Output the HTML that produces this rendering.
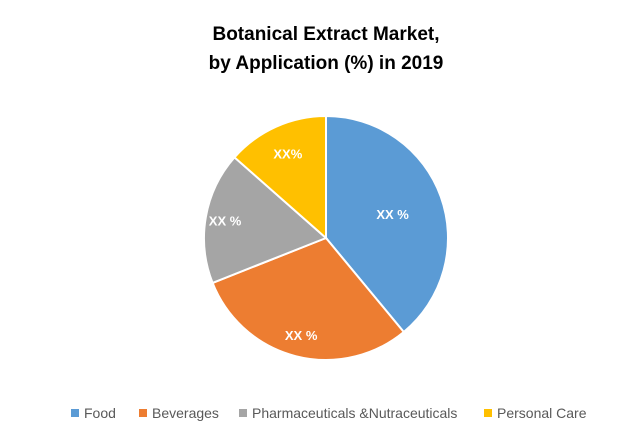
<!DOCTYPE html>
<html><head><meta charset="utf-8"><style>
body{margin:0;background:#fff;width:642px;height:438px;overflow:hidden;font-family:"Liberation Sans",sans-serif}
</style></head><body>
<svg width="642" height="438">
<text x="326" y="40" text-anchor="middle" font-size="19" font-weight="bold" fill="#000">Botanical Extract Market,</text>
<text x="326" y="69" text-anchor="middle" font-size="19" font-weight="bold" fill="#000">by Application (%) in 2019</text>
<g id="slices"></g>
<g id="legend"></g>
</svg>
<script>
const categories=["Food","Beverages","Pharmaceuticals &Nutraceuticals","Personal Care"];
const values=[39,30,17.5,13.5];
const labels=["XX %","XX %","XX %","XX%"];
const colors=["#5b9bd5","#ed7d31","#a5a5a5","#ffc000"];
const labelR=[0.58,0.82,0.84,0.76];
const ns="http://www.w3.org/2000/svg";
const cx=326,cy=238,r=122;
const total=values.reduce((a,b)=>a+b,0);
const g=document.getElementById('slices');
let a0=0;
function pt(a,rr){return [cx+rr*Math.sin(a),cy-rr*Math.cos(a)];}
values.forEach((v,i)=>{
 const a1=a0+v/total*2*Math.PI;
 const p0=pt(a0,r),p1=pt(a1,r);
 const large=(a1-a0)>Math.PI?1:0;
 const p=document.createElementNS(ns,'path');
 p.setAttribute('d',`M${cx},${cy}L${p0[0]},${p0[1]}A${r},${r} 0 ${large} 1 ${p1[0]},${p1[1]}Z`);
 p.setAttribute('fill',colors[i]);p.setAttribute('stroke','#fff');p.setAttribute('stroke-width','2');
 
 
 g.appendChild(p);
 const m=pt((a0+a1)/2,r*labelR[i]);
 const t=document.createElementNS(ns,'text');
 t.setAttribute('x',m[0]);t.setAttribute('y',m[1]+5);t.setAttribute('text-anchor','middle');
 t.setAttribute('font-size','13');t.setAttribute('font-weight','bold');t.setAttribute('fill','#fff');
 t.textContent=labels[i];
 
 
 g.appendChild(t);
 a0=a1;
});
const lg=document.getElementById('legend');
const lx=[71,139,239,484];
categories.forEach((c,i)=>{
 const s=document.createElementNS(ns,'rect');
 s.setAttribute('x',lx[i]);s.setAttribute('y',409);s.setAttribute('width',8);s.setAttribute('height',8);s.setAttribute('fill',colors[i]);
 
 
 lg.appendChild(s);
 const t=document.createElementNS(ns,'text');
 t.setAttribute('x',lx[i]+13);t.setAttribute('y',418);t.setAttribute('font-size','14');t.setAttribute('fill','#595959');
 t.textContent=c;
 
 
 lg.appendChild(t);
});
</script>
</body></html>
